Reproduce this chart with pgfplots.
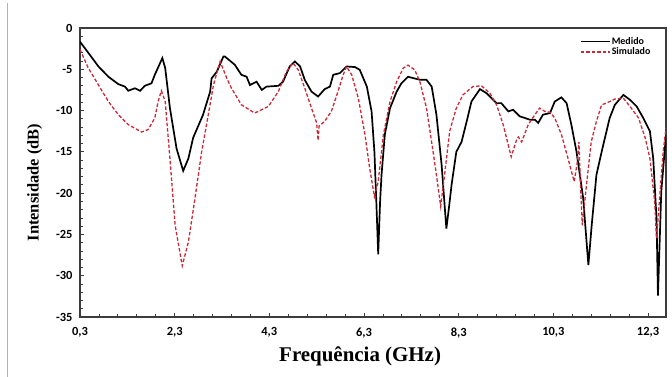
\documentclass[border=0pt]{standalone}
\usepackage{fontspec}
\setmainfont{Liberation Serif}
\newfontfamily\tickfont{Carlito}
\usepackage{pgfplots}
\pgfplotsset{compat=1.18}
\definecolor{simred}{RGB}{205,40,55}
\definecolor{framegray}{RGB}{60,60,60}
\begin{document}
\begin{tikzpicture}
\begin{axis}[
  at={(80bp,60bp)}, anchor=south west,
  scale only axis, width=586bp, height=289bp,
  xmin=0.3, xmax=12.68, ymin=-35, ymax=0,
  xtick={0.3,2.3,4.3,6.3,8.3,10.3,12.3},
  xticklabels={{0,3},{2,3},{4,3},{6,3},{8,3},{10,3},{12,3}},
  ytick={-35,-30,-25,-20,-15,-10,-5,0},
  yticklabels={-35,-30,-25,-20,-15,-10,-5,0},
  minor x tick num=4, minor y tick num=4,
  xtick pos=bottom, ytick pos=left,
  tick align=inside,
  major tick length=4bp, minor tick length=3bp,
  every tick/.style={framegray, line width=0.8pt},
  axis line style={framegray, line width=1.2pt},
  ticklabel style={font=\tickfont\bfseries\fontsize{12.5}{14}\selectfont},
  xticklabel style={yshift=-7bp},
  yticklabel style={xshift=-4bp},
  xlabel={Frequência (GHz)},
  ylabel={Intensidade (dB)},
  xlabel style={font=\bfseries\fontsize{21}{24}\selectfont, at={(ticklabel cs:0.478)}, yshift=-2bp},
  ylabel style={font=\bfseries\fontsize{16.5}{19}\selectfont, at={(ticklabel cs:0.465)}, yshift=7bp},
  legend style={draw=none, fill=none, at={(0.853,0.972)}, anchor=north west,
    font=\tickfont\bfseries\fontsize{10}{11}\selectfont, row sep=0bp,
    inner sep=0pt, nodes={inner sep=1pt}},
  legend cell align=left,
  legend image code/.code={\draw[#1] (0bp,0bp) -- (29bp,0bp);},
]
\addplot[black, line width=1.7pt] coordinates {
(0.3,-1.66) (0.475,-3.0) (0.69,-4.66) (0.9,-5.9) (1.11,-6.8) (1.25,-7.1)
(1.32,-7.6) (1.46,-7.3) (1.57,-7.6) (1.67,-7.0) (1.81,-6.7) (1.88,-5.67)
(2.04,-3.64) (2.1,-4.85) (2.2,-9.7) (2.34,-14.6) (2.48,-17.3) (2.59,-15.8)
(2.69,-13.3) (2.9,-10.5) (3.05,-7.7) (3.08,-6.1) (3.19,-5.3) (3.33,-3.45)
(3.36,-3.45) (3.57,-4.45) (3.71,-5.67) (3.82,-5.9) (3.89,-6.9) (4.03,-6.5)
(4.14,-7.5) (4.24,-7.1) (4.49,-7.0) (4.59,-6.5) (4.73,-4.66) (4.84,-4.05)
(4.95,-4.66) (5.05,-6.3) (5.19,-7.7) (5.33,-8.3) (5.47,-7.4) (5.58,-7.1)
(5.65,-5.67) (5.79,-5.46) (5.93,-4.66) (6.11,-4.73) (6.21,-5.06) (6.36,-7.1)
(6.46,-10.1) (6.52,-15) (6.56,-21) (6.6,-27.4) (6.64,-21) (6.67,-17.8)
(6.74,-12.9) (6.85,-9.7) (6.99,-7.7) (7.09,-6.7) (7.23,-5.9) (7.34,-6.07)
(7.48,-6.27) (7.62,-6.27) (7.73,-7.1) (7.83,-10.5) (7.94,-16.6) (8.04,-24.3)
(8.1,-21.5) (8.15,-19.0) (8.25,-15.0) (8.36,-13.8) (8.47,-11.3) (8.57,-8.9)
(8.75,-7.4) (8.89,-7.9) (9.1,-9.1) (9.2,-9.1) (9.35,-10.1) (9.45,-9.9)
(9.59,-10.7) (9.7,-10.9) (9.8,-11.1) (9.91,-11.1) (9.98,-11.5) (10.08,-10.5)
(10.23,-10.3) (10.33,-8.9) (10.47,-8.4) (10.58,-9.1) (10.68,-11.7) (10.79,-15.0)
(10.93,-20.6) (11.04,-28.7) (11.11,-23.9) (11.21,-17.8) (11.32,-15.0) (11.39,-13.3)
(11.49,-10.9) (11.6,-9.3) (11.78,-8.1) (11.92,-8.7) (12.06,-9.5) (12.2,-10.9)
(12.34,-12.5) (12.41,-15.8) (12.48,-23.1) (12.51,-32.4) (12.58,-19.8) (12.65,-15.0)
(12.68,-13.0)
};
\addlegendentry{Medido}
\addplot[simred, line width=1.3pt, dash pattern=on 3.5pt off 2pt] coordinates {
(0.3,-2.6) (0.475,-4.85) (0.69,-6.9) (0.9,-8.9) (1.11,-10.5) (1.32,-11.7)
(1.6,-12.6) (1.74,-12.3) (1.88,-10.9) (1.95,-8.9) (2.02,-7.6) (2.1,-8.9)
(2.2,-15.8) (2.31,-23.9) (2.46,-28.8) (2.59,-25.9) (2.73,-20.6) (2.87,-15.0)
(3.01,-10.5) (3.12,-6.9) (3.26,-4.05) (3.4,-6.07) (3.5,-7.3) (3.71,-9.3)
(3.99,-10.3) (4.28,-9.5) (4.49,-7.7) (4.66,-5.3) (4.8,-4.25) (4.91,-5.06)
(5.05,-7.3) (5.19,-9.7) (5.3,-11.5) (5.33,-13.6) (5.35,-11.9) (5.47,-11.3)
(5.61,-10.1) (5.75,-7.7) (5.86,-5.67) (5.93,-4.66) (6.04,-5.67) (6.18,-8.5)
(6.32,-12.9) (6.42,-17.0) (6.52,-20.4) (6.6,-18.6) (6.71,-12.9) (6.85,-8.9)
(6.99,-6.5) (7.13,-4.85) (7.23,-4.5) (7.37,-5.06) (7.48,-6.5) (7.62,-9.7)
(7.76,-15.0) (7.83,-17.8) (7.92,-21.6) (8.01,-17.4) (8.11,-12.5) (8.25,-9.7)
(8.39,-8.1) (8.6,-7.1) (8.78,-7.0) (8.96,-7.9) (9.1,-9.3) (9.24,-11.7)
(9.41,-15.6) (9.52,-13.6) (9.56,-13.2) (9.63,-13.8) (9.77,-11.7) (9.91,-10.5)
(10.01,-9.7) (10.12,-10.1) (10.23,-10.2) (10.33,-10.9) (10.47,-12.9) (10.61,-15.8)
(10.74,-18.6) (10.8,-16.5) (10.84,-13.8) (10.88,-19.8) (10.91,-23.9) (11.0,-19.0)
(11.1,-13.8) (11.21,-11.3) (11.32,-9.3) (11.42,-9.1) (11.6,-8.6) (11.78,-8.5)
(11.92,-9.5) (12.1,-10.9) (12.24,-13.3) (12.34,-15.8) (12.44,-21.0) (12.48,-25.5)
(12.55,-20.2) (12.62,-15.0) (12.68,-12.1)
};
\addlegendentry{Simulado}
\end{axis}
\draw[gray!60, line width=0.6pt] (7bp,0bp) -- (7bp,374bp);
\pgfresetboundingbox
\path[use as bounding box] (0,0) rectangle (672bp,377bp);
\end{tikzpicture}
\end{document}
